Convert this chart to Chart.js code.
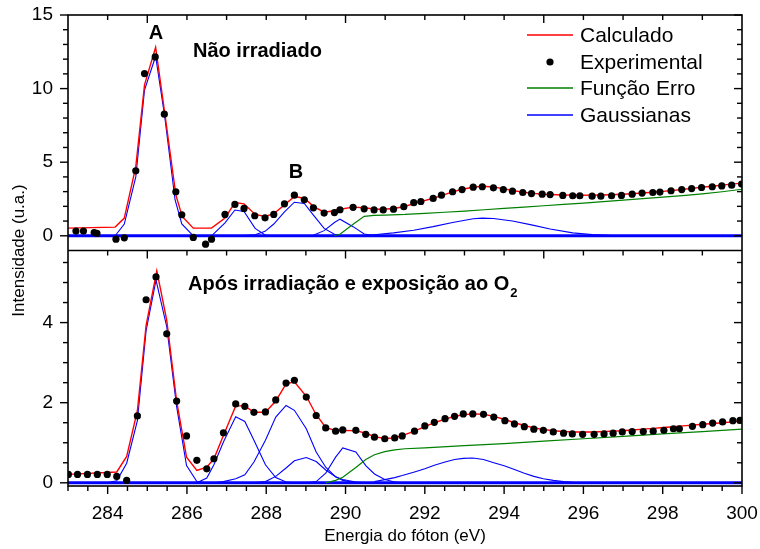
<!DOCTYPE html>
<html>
<head>
<meta charset="utf-8">
<script src="https://cdn.jsdelivr.net/npm/chart.js@4.4.0/dist/chart.umd.min.js"></script>
<style>
  html, body { margin: 0; padding: 0; background: #fff; }
</style>
</head>
<body>
<canvas id="c" width="760" height="549"></canvas>
<script>
// ---- ticks ----
const xTicks = [284, 286, 288, 290, 292, 294, 296, 298, 300];
const topTicks = [0, 5, 10, 15];
const botTicks = [0, 2, 4];

// ---- painel superior: não irradiado ----
const topExpE = [283.20, 283.39, 283.66, 283.73, 284.21, 284.42, 284.71, 284.93, 285.20, 285.43, 285.72, 285.87,
  286.16, 286.47, 286.62, 286.96, 287.21, 287.44, 287.71, 287.97, 288.19, 288.46, 288.71, 288.96, 289.19, 289.46,
  289.72, 289.86, 290.19, 290.47, 290.72, 290.95, 291.21, 291.47, 291.72, 291.90, 292.21, 292.42, 292.70, 292.94,
  293.22, 293.45, 293.73, 293.98, 294.21, 294.47, 294.69, 294.96, 295.16, 295.48, 295.73, 295.91, 296.22, 296.44,
  296.71, 296.96, 297.23, 297.48, 297.75, 297.93, 298.21, 298.48, 298.73, 298.98, 299.25, 299.49, 299.74, 299.99];
const topExp = [0.32, 0.32, 0.22, 0.17, -0.23, -0.14, 4.41, 11.02, 12.15, 8.26, 2.99, 1.43,
  -0.11, -0.57, -0.23, 1.45, 2.13, 1.86, 1.36, 1.22, 1.45, 2.17, 2.76, 2.44, 1.90, 1.54,
  1.58, 1.77, 1.93, 1.83, 1.76, 1.76, 1.81, 1.98, 2.25, 2.33, 2.54, 2.76, 2.99, 3.14,
  3.30, 3.33, 3.26, 3.14, 3.03, 2.94, 2.87, 2.83, 2.80, 2.74, 2.72, 2.72, 2.69, 2.69,
  2.72, 2.74, 2.83, 2.90, 2.94, 2.97, 3.06, 3.14, 3.21, 3.28, 3.33, 3.39, 3.44, 3.51];

const topCalcE = [283.00, 284.19, 284.42, 284.71, 284.93, 285.21, 285.44, 285.72, 285.88, 286.16, 286.62, 286.96,
  287.21, 287.44, 287.72, 287.97, 288.19, 288.46, 288.71, 288.96, 289.19, 289.46, 289.72, 289.86, 290.19, 290.47,
  290.72, 290.95, 291.21, 291.47, 291.72, 291.90, 292.21, 292.42, 292.70, 292.94, 293.22, 293.45, 293.73, 293.98,
  294.21, 294.47, 294.69, 294.96, 295.16, 295.48, 295.73, 295.91, 296.22, 296.44, 296.71, 296.96, 297.23, 297.48,
  297.75, 297.93, 298.21, 298.48, 298.73, 298.98, 299.25, 299.49, 299.74, 300.00];
const topCalc = [0.52, 0.59, 1.20, 4.70, 10.25, 12.81, 8.33, 2.78, 1.31, 0.52, 0.52, 1.20,
  2.26, 2.17, 1.45, 1.31, 1.50, 2.10, 2.67, 2.55, 2.00, 1.60, 1.70, 1.80, 1.95, 1.90,
  1.82, 1.80, 1.85, 1.97, 2.18, 2.32, 2.55, 2.73, 2.98, 3.16, 3.30, 3.36, 3.31, 3.20,
  3.08, 2.97, 2.89, 2.83, 2.80, 2.77, 2.76, 2.75, 2.76, 2.77, 2.79, 2.82, 2.86, 2.91,
  2.96, 3.00, 3.07, 3.14, 3.22, 3.30, 3.37, 3.44, 3.51, 3.58];

const topErfE = [289.72, 289.86, 290.19, 290.47, 290.72, 291.0, 291.5, 292.0, 292.5, 293.0, 293.5, 294.0,
  294.5, 295.0, 295.5, 296.0, 296.5, 297.0, 297.5, 298.0, 298.5, 299.0, 299.5, 300.0];
const topErf = [0.00, 0.10, 0.78, 1.32, 1.38, 1.41, 1.45, 1.52, 1.60, 1.68, 1.77, 1.86,
  1.95, 2.04, 2.13, 2.22, 2.32, 2.42, 2.52, 2.62, 2.73, 2.85, 2.99, 3.16];

const topGaussA_E = [284.19, 284.42, 284.71, 284.93, 285.21, 285.44, 285.70, 285.87, 286.16];
const topGaussA = [0, 0.8, 4.0, 9.9, 12.2, 8.1, 2.45, 0.8, 0];
const topGauss2_E = [286.62, 286.96, 287.21, 287.44, 287.72, 287.97, 288.19];
const topGauss2 = [0, 0.88, 1.75, 1.65, 0.5, 0.05, 0];
const topGaussB_E = [287.44, 287.72, 287.97, 288.19, 288.46, 288.71, 288.96, 289.19, 289.46, 289.72, 289.86];
const topGaussB = [0.01, 0.07, 0.3, 0.8, 1.62, 2.28, 2.2, 1.4, 0.5, 0.1, 0.03];
const topGauss4_E = [289.19, 289.46, 289.72, 289.86, 290.19, 290.47, 290.72];
const topGauss4 = [0.03, 0.35, 0.9, 1.13, 0.62, 0.12, 0.01];
const topGauss5_E = [290.47, 290.72, 291.21, 291.72, 292.21, 292.70, 293.22, 293.45, 293.73, 294.21, 294.69,
  295.16, 295.73, 296.22, 296.71, 297.23];
const topGauss5 = [0.02, 0.07, 0.2, 0.38, 0.62, 0.9, 1.16, 1.2, 1.17, 1.0, 0.74, 0.46, 0.2, 0.08, 0.02, 0];

// ---- painel inferior: após irradiação e exposição ao O2 ----
const botExpE = [283.01, 283.24, 283.49, 283.74, 283.99, 284.23, 284.48, 284.75, 284.97, 285.22, 285.49, 285.74,
  285.99, 286.25, 286.50, 286.68, 286.92, 287.23, 287.46, 287.69, 287.98, 288.24, 288.50, 288.71, 289.01, 289.26,
  289.50, 289.75, 289.93, 290.26, 290.51, 290.73, 290.99, 291.24, 291.43, 291.74, 292.00, 292.24, 292.51, 292.75,
  292.97, 293.21, 293.48, 293.74, 294.02, 294.26, 294.51, 294.75, 294.99, 295.24, 295.50, 295.72, 295.98, 296.27,
  296.52, 296.75, 296.98, 297.23, 297.51, 297.76, 298.03, 298.27, 298.42, 298.75, 299.01, 299.26, 299.51, 299.77, 299.95];
const botExp = [0.21, 0.21, 0.21, 0.21, 0.21, 0.16, 0.06, 1.67, 4.57, 5.14, 3.72, 2.04,
  1.17, 0.56, 0.35, 0.60, 1.25, 1.97, 1.91, 1.76, 1.77, 2.07, 2.49, 2.56, 2.14, 1.68,
  1.37, 1.29, 1.32, 1.31, 1.21, 1.14, 1.10, 1.12, 1.17, 1.29, 1.42, 1.51, 1.60, 1.66,
  1.72, 1.72, 1.71, 1.64, 1.55, 1.47, 1.40, 1.34, 1.31, 1.27, 1.24, 1.22, 1.21, 1.21,
  1.22, 1.24, 1.27, 1.28, 1.28, 1.29, 1.31, 1.35, 1.35, 1.41, 1.45, 1.49, 1.52, 1.55, 1.56];

const botCalcE = [283.00, 284.23, 284.48, 284.75, 284.97, 285.24, 285.49, 285.74, 285.99, 286.25, 286.50, 286.68,
  286.92, 287.23, 287.46, 287.69, 287.98, 288.24, 288.50, 288.71, 289.01, 289.26, 289.50, 289.75, 289.93, 290.26,
  290.51, 290.73, 290.99, 291.24, 291.43, 291.74, 292.00, 292.24, 292.51, 292.75, 292.97, 293.21, 293.48, 293.74,
  294.02, 294.26, 294.51, 294.75, 294.99, 295.24, 295.50, 295.72, 295.98, 296.27, 296.52, 296.75, 296.98, 297.23,
  297.51, 297.76, 298.03, 298.27, 298.51, 298.75, 299.01, 299.26, 299.51, 299.77, 300.00];
const botCalc = [0.21, 0.27, 0.66, 1.80, 3.93, 5.29, 4.06, 2.04, 0.64, 0.31, 0.39, 0.60,
  1.18, 1.92, 1.92, 1.76, 1.76, 2.04, 2.47, 2.52, 2.16, 1.70, 1.38, 1.30, 1.31, 1.30,
  1.24, 1.15, 1.11, 1.12, 1.18, 1.29, 1.40, 1.50, 1.59, 1.66, 1.70, 1.72, 1.71, 1.66,
  1.58, 1.50, 1.43, 1.37, 1.33, 1.30, 1.28, 1.27, 1.27, 1.27, 1.28, 1.29, 1.30, 1.32,
  1.34, 1.36, 1.38, 1.40, 1.42, 1.44, 1.46, 1.48, 1.50, 1.52, 1.54];

const botErfE = [289.50, 289.75, 289.93, 290.26, 290.51, 290.73, 290.99, 291.24, 291.50, 292.0, 293.0, 294.0,
  295.0, 296.0, 297.0, 298.0, 299.0, 300.0];
const botErf = [0.00, 0.06, 0.14, 0.38, 0.58, 0.70, 0.78, 0.82, 0.85, 0.87, 0.93, 0.98,
  1.04, 1.10, 1.16, 1.22, 1.28, 1.34];

const botGaussA_E = [283.99, 284.23, 284.48, 284.75, 284.97, 285.22, 285.49, 285.74, 285.99, 286.25, 286.50];
const botGaussA = [0, 0.05, 0.49, 1.55, 3.8, 5.06, 3.9, 1.9, 0.43, 0.03, 0];
const botGauss2_E = [286.25, 286.50, 286.68, 286.92, 287.23, 287.46, 287.69, 287.98, 288.24, 288.50, 288.71];
const botGauss2 = [0, 0.12, 0.45, 1.02, 1.65, 1.53, 1.06, 0.45, 0.13, 0.02, 0];
const botGauss3_E = [286.68, 286.92, 287.23, 287.46, 287.69, 287.98, 288.24, 288.50, 288.71, 289.01, 289.26,
  289.50, 289.75, 289.93, 290.26];
const botGauss3 = [0, 0.03, 0.1, 0.2, 0.52, 1.06, 1.64, 1.93, 1.81, 1.35, 0.77, 0.39, 0.15, 0.06, 0];
const botGauss4_E = [287.69, 287.98, 288.24, 288.50, 288.71, 289.01, 289.26, 289.50, 289.75, 289.93, 290.26, 290.51];
const botGauss4 = [0, 0.03, 0.16, 0.37, 0.55, 0.63, 0.53, 0.32, 0.15, 0.08, 0.02, 0];
const botGauss5_E = [289.01, 289.26, 289.50, 289.75, 289.93, 290.26, 290.51, 290.73, 290.99, 291.24, 291.43];
const botGauss5 = [0, 0.03, 0.24, 0.64, 0.87, 0.77, 0.43, 0.22, 0.08, 0.02, 0];
const botGauss6_E = [290.73, 290.99, 291.24, 291.43, 291.74, 292.00, 292.24, 292.51, 292.75, 292.97, 293.21,
  293.48, 293.74, 294.02, 294.26, 294.51, 294.75, 294.99, 295.24, 295.50, 295.72, 295.98];
const botGauss6 = [0.03, 0.08, 0.13, 0.18, 0.27, 0.35, 0.44, 0.52, 0.58, 0.61, 0.62,
  0.58, 0.50, 0.42, 0.33, 0.24, 0.16, 0.10, 0.06, 0.03, 0.01, 0];

const baseE = [283, 300];
const baseI = [0, 0];

const FAMILY = "'Liberation Sans', Arial, Helvetica, sans-serif";
const RED = '#ff0000', GREEN = '#008000', BLUE = '#0000ff';

function pts(xs, ys) {
  return xs.map((x, i) => ({ x: x, y: ys[i] }));
}

function curve(xs, ys, axis, color, width) {
  return { data: pts(xs, ys), yAxisID: axis, borderColor: color, borderWidth: width,
    pointRadius: 0, fill: false, tension: 0 };
}

function dots(xs, ys, axis) {
  return { data: pts(xs, ys), yAxisID: axis, showLine: false, pointRadius: 3.6,
    pointBackgroundColor: '#000', pointBorderColor: '#000', pointBorderWidth: 0 };
}

const datasets = [
  dots(topExpE, topExp, 'yTop'),
  dots(botExpE, botExp, 'yBot'),
  curve(topCalcE, topCalc, 'yTop', RED, 1.4),
  curve(botCalcE, botCalc, 'yBot', RED, 1.4),
  curve(topErfE, topErf, 'yTop', GREEN, 1.2),
  curve(botErfE, botErf, 'yBot', GREEN, 1.2),
  curve(topGaussA_E, topGaussA, 'yTop', BLUE, 1.1),
  curve(topGauss2_E, topGauss2, 'yTop', BLUE, 1.1),
  curve(topGaussB_E, topGaussB, 'yTop', BLUE, 1.1),
  curve(topGauss4_E, topGauss4, 'yTop', BLUE, 1.1),
  curve(topGauss5_E, topGauss5, 'yTop', BLUE, 1.1),
  curve(botGaussA_E, botGaussA, 'yBot', BLUE, 1.1),
  curve(botGauss2_E, botGauss2, 'yBot', BLUE, 1.1),
  curve(botGauss3_E, botGauss3, 'yBot', BLUE, 1.1),
  curve(botGauss4_E, botGauss4, 'yBot', BLUE, 1.1),
  curve(botGauss5_E, botGauss5, 'yBot', BLUE, 1.1),
  curve(botGauss6_E, botGauss6, 'yBot', BLUE, 1.1),
  curve(baseE, baseI, 'yTop', BLUE, 3),
  curve(baseE, baseI, 'yBot', BLUE, 3)
];

function line(ctx, x1, y1, x2, y2) {
  ctx.beginPath();
  ctx.moveTo(x1, y1);
  ctx.lineTo(x2, y2);
  ctx.stroke();
}

const framePlugin = {
  id: 'frame',
  afterDatasetsDraw(chart) {
    const { ctx, chartArea: a, scales } = chart;
    const x = scales.x, yT = scales.yTop, yB = scales.yBot;
    const mid = yT.bottom;
    ctx.save();
    ctx.strokeStyle = '#000';
    ctx.lineWidth = 1.6;
    ctx.strokeRect(a.left, a.top, a.right - a.left, a.bottom - a.top);
    line(ctx, a.left, mid, a.right, mid);

    ctx.lineWidth = 1.4;
    // eixo inferior: maiores a cada 2 eV, menores a cada 0.5 eV (para fora)
    for (let v = 283; v <= 300.001; v += 0.5) {
      const px = x.getPixelForValue(v);
      const major = xTicks.includes(v);
      line(ctx, px, a.bottom, px, a.bottom + (major ? 8 : 5));
    }
    // topo de cada painel: maiores a cada 5 eV, menores a cada 1 eV (para dentro)
    for (let v = 284; v <= 299; v += 1) {
      const px = x.getPixelForValue(v);
      const len = v % 5 === 0 ? 8 : 5;
      line(ctx, px, a.top, px, a.top + len);
      line(ctx, px, mid, px, mid + len);
    }
    // painel superior
    for (let v = 0; v <= 15; v += 1) {
      const py = yT.getPixelForValue(v);
      const len = v % 5 === 0 ? 8 : 5;
      line(ctx, a.left - len, py, a.left, py);
      line(ctx, a.right - len, py, a.right, py);
    }
    // painel inferior
    for (let v = 0; v <= 5.5; v += 0.5) {
      const py = yB.getPixelForValue(v);
      const len = v % 2 === 0 ? 8 : 5;
      line(ctx, a.left - len, py, a.left, py);
      line(ctx, a.right - len, py, a.right, py);
    }
    ctx.restore();
  },
  afterDraw(chart) {
    const { ctx, chartArea: a } = chart;
    ctx.save();
    ctx.fillStyle = '#000';
    ctx.textBaseline = 'middle';

    // título do eixo y, centrado nos dois painéis
    ctx.save();
    ctx.translate(19, (a.top + a.bottom) / 2);
    ctx.rotate(-Math.PI / 2);
    ctx.textAlign = 'center';
    ctx.font = '17px ' + FAMILY;
    ctx.fillText('Intensidade (u.a.)', 0, 0);
    ctx.restore();

    // rótulos dos painéis
    ctx.font = 'bold 20px ' + FAMILY;
    ctx.textAlign = 'center';
    ctx.fillText('A', 156, 33);
    ctx.fillText('B', 296, 172);
    ctx.textAlign = 'left';
    ctx.fillText('Não irradiado', 193, 51);
    const t = 'Após irradiação e exposição ao O';
    ctx.fillText(t, 188, 284);
    const w = ctx.measureText(t).width;
    ctx.font = 'bold 13px ' + FAMILY;
    ctx.fillText('2', 188 + w + 1, 293);

    // legenda
    const items = [
      { label: 'Calculado', color: RED, y: 35 },
      { label: 'Experimental', dot: true, y: 62 },
      { label: 'Função Erro', color: GREEN, y: 88 },
      { label: 'Gaussianas', color: BLUE, y: 115 }
    ];
    ctx.font = '21px ' + FAMILY;
    items.forEach(it => {
      if (it.dot) {
        ctx.beginPath();
        ctx.arc(550, it.y, 3.6, 0, Math.PI * 2);
        ctx.fill();
      } else {
        ctx.strokeStyle = it.color;
        ctx.lineWidth = 1.3;
        line(ctx, 527, it.y, 573, it.y);
      }
      ctx.fillStyle = '#000';
      ctx.fillText(it.label, 580, it.y + 1);
    });
    ctx.restore();
  }
};

const tickFont = { family: FAMILY, size: 19 };

// eixos empilhados: o primeiro declarado fica embaixo
new Chart(document.getElementById('c'), {
  type: 'line',
  data: { datasets: datasets },
  options: {
    responsive: false,
    animation: false,
    devicePixelRatio: 1,
    layout: { padding: { left: 0, right: 18, top: 15, bottom: 0 } },
    plugins: { legend: { display: false }, tooltip: { enabled: false } },
    scales: {
      x: {
        type: 'linear', min: 283, max: 300,
        grid: { display: false }, border: { display: false },
        afterBuildTicks: s => { s.ticks = xTicks.map(v => ({ value: v })); },
        afterFit: s => { s.height = 63; s.paddingLeft = 0; s.paddingRight = 0; },
        ticks: { font: tickFont, color: '#000', padding: 8, maxRotation: 0, autoSkip: false },
        title: { display: true, text: 'Energia do fóton (eV)', color: '#000',
          font: { family: FAMILY, size: 17 }, padding: { top: 0, bottom: 2 } }
      },
      yBot: {
        type: 'linear', position: 'left', stack: 'panels', stackWeight: 1, min: -0.08, max: 5.8,
        grid: { display: false }, border: { display: false },
        afterBuildTicks: s => { s.ticks = botTicks.map(v => ({ value: v })); },
        afterFit: s => { s.width = 68; s.paddingTop = 0; s.paddingBottom = 0; },
        ticks: { font: tickFont, color: '#000', padding: 7 }
      },
      yTop: {
        type: 'linear', position: 'left', stack: 'panels', stackWeight: 1, min: -1, max: 15,
        grid: { display: false }, border: { display: false },
        afterBuildTicks: s => { s.ticks = topTicks.map(v => ({ value: v })); },
        afterFit: s => { s.width = 68; s.paddingTop = 0; s.paddingBottom = 0; },
        ticks: { font: tickFont, color: '#000', padding: 7 }
      }
    }
  },
  plugins: [framePlugin]
});
</script>
</body>
</html>
